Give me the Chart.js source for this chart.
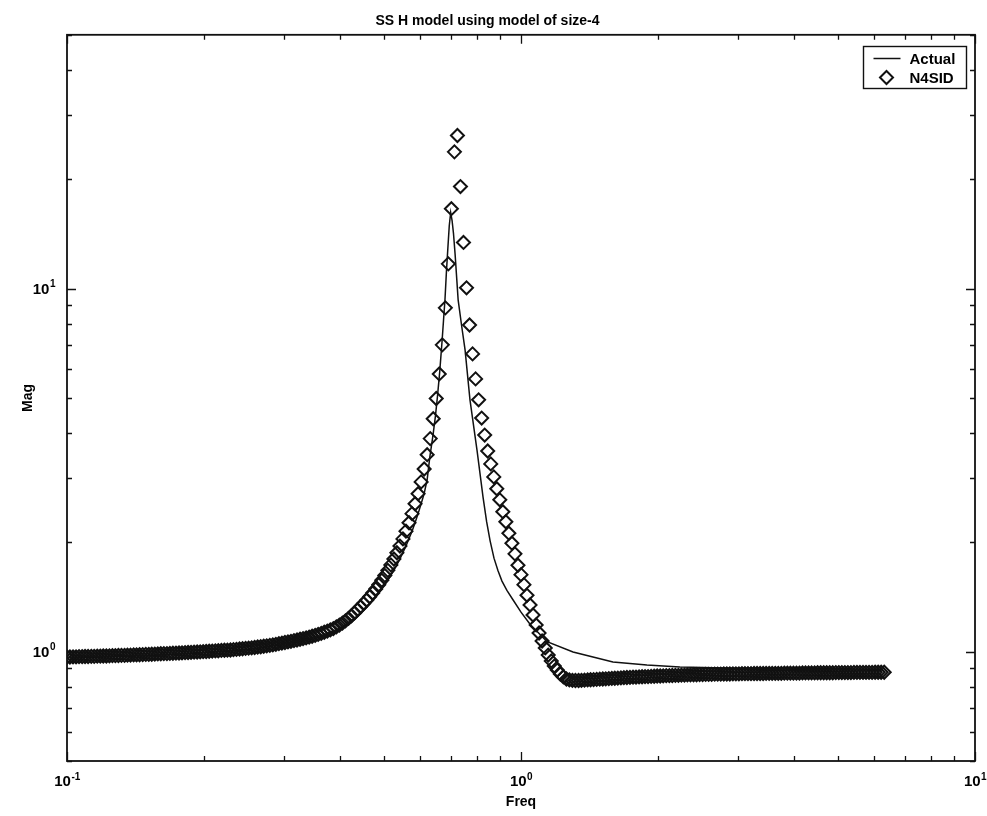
<!DOCTYPE html>
<html>
<head>
<meta charset="utf-8">
<title>SS H model</title>
<script src="https://cdn.jsdelivr.net/npm/chart.js@4.4.1/dist/chart.umd.min.js"></script>
<style>
  html, body { margin: 0; padding: 0; background: #fff; }
  #wrap { width: 987px; height: 816px; }
</style>
</head>
<body>
<div id="wrap"><canvas id="magChart"></canvas></div>
<script>
// N4SID model evaluated on a log grid, 150 points per decade
const freq = [
  0.1, 0.1015, 0.1031, 0.1047, 0.1063, 0.108, 0.1096, 0.1113, 0.1131, 0.1148, 0.1166, 0.1184, 0.1202, 0.1221, 0.124,
  0.1259, 0.1278, 0.1298, 0.1318, 0.1339, 0.1359, 0.138, 0.1402, 0.1423, 0.1445, 0.1468, 0.1491, 0.1514, 0.1537, 0.1561,
  0.1585, 0.1609, 0.1634, 0.166, 0.1685, 0.1711, 0.1738, 0.1765, 0.1792, 0.182, 0.1848, 0.1876, 0.1905, 0.1935, 0.1965,
  0.1995, 0.2026, 0.2057, 0.2089, 0.2122, 0.2154, 0.2188, 0.2222, 0.2256, 0.2291, 0.2326, 0.2362, 0.2399, 0.2436, 0.2474,
  0.2512, 0.2551, 0.259, 0.263, 0.2671, 0.2712, 0.2754, 0.2797, 0.284, 0.2884, 0.2929, 0.2974, 0.302, 0.3067, 0.3114,
  0.3162, 0.3211, 0.3261, 0.3311, 0.3363, 0.3415, 0.3467, 0.3521, 0.3575, 0.3631, 0.3687, 0.3744, 0.3802, 0.3861, 0.392,
  0.3981, 0.4043, 0.4105, 0.4169, 0.4233, 0.4299, 0.4365, 0.4433, 0.4501, 0.4571, 0.4642, 0.4713, 0.4786, 0.486, 0.4936,
  0.5012, 0.5089, 0.5168, 0.5248, 0.5329, 0.5412, 0.5495, 0.558, 0.5667, 0.5754, 0.5843, 0.5934, 0.6026, 0.6119, 0.6213,
  0.631, 0.6407, 0.6506, 0.6607, 0.6709, 0.6813, 0.6918, 0.7025, 0.7134, 0.7244, 0.7356, 0.747, 0.7586, 0.7703, 0.7822,
  0.7943, 0.8066, 0.8191, 0.8318, 0.8446, 0.8577, 0.871, 0.8844, 0.8981, 0.912, 0.9261, 0.9404, 0.955, 0.9698, 0.9848,
  1, 1.015, 1.031, 1.047, 1.063, 1.08, 1.096, 1.113, 1.131, 1.148, 1.166, 1.184, 1.202, 1.221, 1.24,
  1.259, 1.278, 1.298, 1.318, 1.339, 1.359, 1.38, 1.402, 1.423, 1.445, 1.468, 1.491, 1.514, 1.537, 1.561,
  1.585, 1.609, 1.634, 1.66, 1.685, 1.711, 1.738, 1.765, 1.792, 1.82, 1.848, 1.876, 1.905, 1.935, 1.965,
  1.995, 2.026, 2.057, 2.089, 2.122, 2.154, 2.188, 2.222, 2.256, 2.291, 2.326, 2.362, 2.399, 2.436, 2.474,
  2.512, 2.551, 2.59, 2.63, 2.671, 2.712, 2.754, 2.797, 2.84, 2.884, 2.929, 2.974, 3.02, 3.067, 3.114,
  3.162, 3.211, 3.261, 3.311, 3.363, 3.415, 3.467, 3.521, 3.575, 3.631, 3.687, 3.744, 3.802, 3.861, 3.92,
  3.981, 4.043, 4.105, 4.169, 4.233, 4.299, 4.365, 4.433, 4.501, 4.571, 4.642, 4.713, 4.786, 4.86, 4.936,
  5.012, 5.089, 5.168, 5.248, 5.329, 5.412, 5.495, 5.58, 5.667, 5.754, 5.843, 5.934, 6.026, 6.119, 6.213,
  6.31
];

const magN4sid = [
  0.967, 0.967, 0.968, 0.968, 0.969, 0.969, 0.970, 0.970, 0.971, 0.971, 0.972, 0.972, 0.973, 0.973, 0.974,
  0.975, 0.975, 0.976, 0.977, 0.977, 0.978, 0.979, 0.980, 0.980, 0.981, 0.982, 0.983, 0.983, 0.984, 0.985,
  0.986, 0.987, 0.988, 0.988, 0.989, 0.990, 0.991, 0.992, 0.993, 0.994, 0.995, 0.996, 0.997, 0.998, 0.999,
  1.000, 1.001, 1.003, 1.004, 1.005, 1.006, 1.008, 1.009, 1.010, 1.011, 1.013, 1.015, 1.017, 1.019, 1.021,
  1.023, 1.025, 1.027, 1.030, 1.032, 1.035, 1.038, 1.041, 1.044, 1.048, 1.052, 1.056, 1.060, 1.064, 1.068,
  1.073, 1.077, 1.082, 1.087, 1.092, 1.097, 1.103, 1.109, 1.116, 1.123, 1.131, 1.139, 1.148, 1.158, 1.170,
  1.184, 1.199, 1.216, 1.235, 1.256, 1.279, 1.305, 1.330, 1.357, 1.386, 1.417, 1.451, 1.488, 1.529, 1.573,
  1.622, 1.675, 1.734, 1.800, 1.873, 1.954, 2.045, 2.148, 2.265, 2.400, 2.555, 2.724, 2.935, 3.186, 3.488,
  3.862, 4.38, 4.98, 5.82, 7.0, 8.85, 11.7, 16.6, 23.8, 26.4, 19.1, 13.4, 10.05, 7.94, 6.61,
  5.64, 4.94, 4.40, 3.95, 3.57, 3.29, 3.03, 2.81, 2.62, 2.43, 2.28, 2.12, 1.99, 1.86, 1.73,
  1.63, 1.53, 1.43, 1.345, 1.262, 1.185, 1.126, 1.070, 1.024, 0.979, 0.943, 0.913, 0.890, 0.868, 0.852,
  0.841, 0.836, 0.834, 0.833, 0.833, 0.834, 0.835, 0.836, 0.837, 0.838, 0.839, 0.840, 0.841, 0.842, 0.843,
  0.844, 0.845, 0.846, 0.847, 0.848, 0.849, 0.850, 0.851, 0.851, 0.852, 0.853, 0.854, 0.854, 0.855, 0.856,
  0.857, 0.857, 0.858, 0.859, 0.859, 0.860, 0.861, 0.861, 0.862, 0.862, 0.863, 0.863, 0.864, 0.864, 0.865,
  0.865, 0.866, 0.866, 0.866, 0.867, 0.867, 0.867, 0.868, 0.868, 0.868, 0.869, 0.869, 0.869, 0.870, 0.870,
  0.870, 0.870, 0.871, 0.871, 0.871, 0.871, 0.872, 0.872, 0.872, 0.872, 0.872, 0.872, 0.873, 0.873, 0.873,
  0.873, 0.873, 0.873, 0.874, 0.874, 0.874, 0.874, 0.874, 0.875, 0.875, 0.875, 0.875, 0.875, 0.875, 0.876,
  0.876, 0.876, 0.876, 0.876, 0.876, 0.877, 0.877, 0.877, 0.877, 0.877, 0.877, 0.877, 0.878, 0.878, 0.878,
  0.878
];

// true system response, sampled more densely around the resonance
const freqActual = [
  0.1, 0.15, 0.2, 0.25, 0.3, 0.35, 0.3687, 0.3981, 0.4299, 0.4642, 0.486, 0.5089, 0.5248, 0.5412, 0.558,
  0.5754, 0.5843, 0.5934, 0.6026, 0.6119, 0.6213, 0.63, 0.64, 0.648, 0.655, 0.662, 0.67, 0.675, 0.68, 0.685,
  0.69, 0.695, 0.7, 0.705, 0.71, 0.716, 0.722, 0.727, 0.74, 0.753, 0.772, 0.8, 0.825, 0.84,
  0.855, 0.872, 0.89, 0.908, 0.931, 0.96, 1.0, 1.047, 1.141, 1.302, 1.594, 1.894, 2.239, 3.36, 6.27
];
const magActual = [
  0.966, 0.978, 0.995, 1.016, 1.050, 1.092, 1.116, 1.158, 1.235, 1.357, 1.451, 1.573, 1.675, 1.800, 1.954,
  2.148, 2.265, 2.400, 2.555, 2.724, 2.98, 3.45, 3.95, 4.46, 5.08, 5.88, 7.15, 8.17, 9.3, 11.1,
  12.9, 14.9, 16.2, 15.4, 14.2, 12.4, 10.6, 9.31, 7.9, 6.78, 4.94, 3.59, 2.66, 2.28,
  2.02, 1.81, 1.67, 1.565, 1.475, 1.39, 1.285, 1.19, 1.066, 0.998, 0.937, 0.919, 0.908, 0.897, 0.89
];

// decade tick labels, drawn as 10 with a raised exponent
const xDecades = [0.1, 1, 10];
const xExponents = ['-1', '0', '1'];
const yDecades = [1, 10];
const yExponents = ['0', '1'];

const FONT = "'Liberation Sans', Arial, Helvetica, sans-serif";
Chart.defaults.font.family = FONT;
Chart.defaults.color = '#000';

function toPoints(xs, ys) {
  return xs.map((x, i) => ({ x: x, y: ys[i] }));
}

function isDecade(value, decades) {
  return decades.some(d => Math.abs(value - d) / d < 1e-6);
}

// 1..9 x 10^n tick values inside the axis range
function logTicks(scale) {
  const ticks = [];
  for (let e = Math.floor(Math.log10(scale.min)); Math.pow(10, e) <= scale.max; e++) {
    for (let s = 1; s < 10; s++) {
      const v = s * Math.pow(10, e);
      if (v >= scale.min * 0.999 && v <= scale.max * 1.001) ticks.push({ value: v });
    }
  }
  scale.ticks = ticks;
}

function drawPower(ctx, exp, x, y, align) {
  ctx.font = 'bold 15px ' + FONT;
  const wb = ctx.measureText('10').width;
  ctx.font = 'bold 10px ' + FONT;
  const we = ctx.measureText(exp).width;
  const left = align === 'center' ? x - (wb + we) / 2 : x - (wb + we);
  ctx.font = 'bold 15px ' + FONT;
  ctx.fillText('10', left, y);
  ctx.font = 'bold 10px ' + FONT;
  ctx.fillText(exp, left + wb + 0.5, y - 5);
}

// plot box with inward tick marks on all four sides, decade labels and the boxed legend
const frameAndLegend = {
  id: 'frameAndLegend',
  afterDraw(chart) {
    const { ctx, chartArea: a, scales } = chart;
    ctx.save();
    ctx.strokeStyle = '#111';
    ctx.lineWidth = 1.3;
    ctx.beginPath();
    scales.x.ticks.forEach(t => {
      const px = Math.round(scales.x.getPixelForValue(t.value)) + 0.5;
      const len = isDecade(t.value, xDecades) ? 9 : 5;
      ctx.moveTo(px, a.bottom); ctx.lineTo(px, a.bottom - len);
      ctx.moveTo(px, a.top); ctx.lineTo(px, a.top + len);
    });
    scales.y.ticks.forEach(t => {
      const py = Math.round(scales.y.getPixelForValue(t.value)) + 0.5;
      const len = isDecade(t.value, yDecades) ? 9 : 5;
      ctx.moveTo(a.left, py); ctx.lineTo(a.left + len, py);
      ctx.moveTo(a.right, py); ctx.lineTo(a.right - len, py);
    });
    ctx.stroke();
    ctx.lineWidth = 1.8;
    ctx.strokeRect(a.left, a.top, a.right - a.left, a.bottom - a.top);

    ctx.fillStyle = '#000';
    ctx.textBaseline = 'middle';
    ctx.textAlign = 'left';
    xDecades.forEach((d, i) => {
      drawPower(ctx, xExponents[i], scales.x.getPixelForValue(d), a.bottom + 21, 'center');
    });
    yDecades.forEach((d, i) => {
      drawPower(ctx, yExponents[i], a.left - 12, scales.y.getPixelForValue(d) + 1, 'right');
    });

    // legend
    const items = chart.data.datasets;
    ctx.font = 'bold 15px ' + FONT;
    const textW = Math.max(...items.map(d => ctx.measureText(d.label).width));
    const bw = Math.round(46 + textW + 11), bh = 42;
    const bx = Math.round(a.right - 9 - bw) + 0.5, by = Math.round(a.top + 11) + 0.5;
    ctx.fillStyle = '#fff';
    ctx.fillRect(bx, by, bw, bh);
    ctx.lineWidth = 1.4;
    ctx.strokeRect(bx, by, bw, bh);
    ctx.fillStyle = '#000';
    items.forEach((d, i) => {
      const cy = by + 12 + i * 19;
      ctx.beginPath();
      if (d.showLine) {
        ctx.lineWidth = 1.5;
        ctx.moveTo(bx + 10, cy); ctx.lineTo(bx + 37, cy);
      } else {
        const r = d.pointRadius;
        ctx.lineWidth = d.pointBorderWidth;
        ctx.moveTo(bx + 23 - r, cy); ctx.lineTo(bx + 23, cy - r);
        ctx.lineTo(bx + 23 + r, cy); ctx.lineTo(bx + 23, cy + r);
        ctx.closePath();
      }
      ctx.stroke();
      ctx.fillText(d.label, bx + 46, cy + 1);
    });
    ctx.restore();
  }
};

new Chart(document.getElementById('magChart'), {
  type: 'scatter',
  data: {
    datasets: [
      {
        label: 'Actual',
        data: toPoints(freqActual, magActual),
        showLine: true,
        borderColor: '#111',
        borderWidth: 1.5,
        pointRadius: 0,
        tension: 0
      },
      {
        label: 'N4SID',
        data: toPoints(freq, magN4sid),
        showLine: false,
        pointStyle: 'rectRot',
        pointRadius: 6.5,
        pointBorderWidth: 2,
        pointBorderColor: '#111',
        pointBackgroundColor: 'rgba(0,0,0,0)'
      }
    ]
  },
  options: {
    responsive: true,
    maintainAspectRatio: false,
    animation: false,
    events: [],
    layout: { padding: { left: 0, right: 12, top: 0, bottom: 0 } },
    plugins: {
      legend: { display: false },
      tooltip: { enabled: false },
      title: {
        display: true,
        text: 'SS H model using model of size-4',
        color: '#000',
        font: { size: 14, weight: 'bold' },
        padding: { top: 13, bottom: 5 }
      }
    },
    scales: {
      x: {
        type: 'logarithmic',
        min: 0.1,
        max: 10,
        afterBuildTicks: logTicks,
        afterFit: s => { s.height = 55; s.paddingLeft = 0; s.paddingRight = 0; },
        grid: { display: false, drawTicks: false },
        border: { display: false },
        ticks: { display: false, autoSkip: false },
        title: {
          display: true,
          text: 'Freq',
          font: { size: 14, weight: 'bold' },
          padding: { top: 0, bottom: 5 }
        }
      },
      y: {
        type: 'logarithmic',
        min: 0.5,
        max: 50,
        afterBuildTicks: logTicks,
        afterFit: s => { s.width = 67; s.paddingTop = 0; s.paddingBottom = 0; },
        grid: { display: false, drawTicks: false },
        border: { display: false },
        ticks: { display: false, autoSkip: false },
        title: {
          display: true,
          text: 'Mag',
          font: { size: 14, weight: 'bold' },
          padding: { top: 20, bottom: 0 }
        }
      }
    }
  },
  plugins: [frameAndLegend]
});
</script>
</body>
</html>
